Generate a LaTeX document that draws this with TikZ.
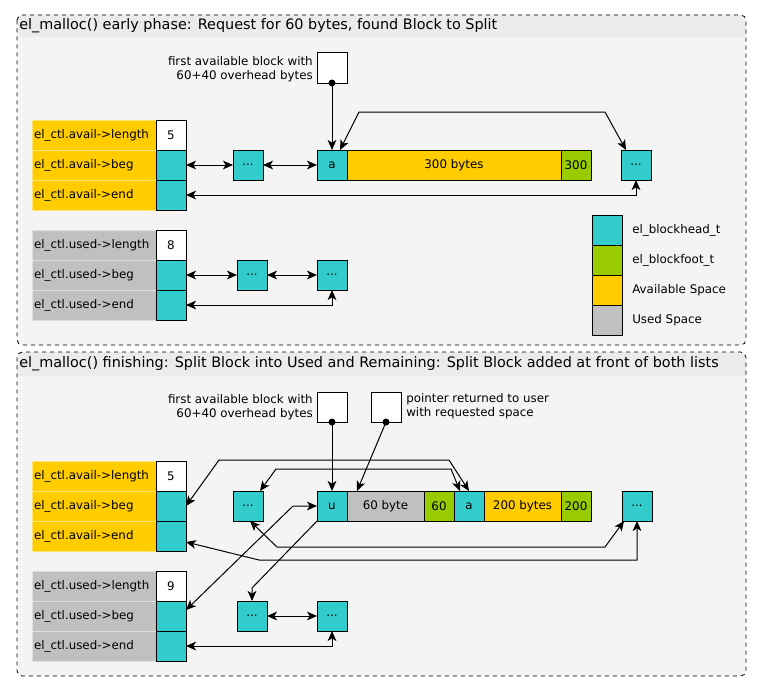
\documentclass[tikz,border=0pt]{standalone}
\usepackage{fontspec}
\setmainfont{DejaVu Sans}
\usetikzlibrary{arrows.meta,calc}
\definecolor{cyanc}{HTML}{33CCCC}
\definecolor{yelc}{HTML}{FFCC00}
\definecolor{grnc}{HTML}{99CC00}
\definecolor{grayc}{HTML}{C0C0C0}
\definecolor{panelbg}{HTML}{F4F4F4}
\definecolor{titlebg}{HTML}{EBEBEB}
\tikzset{
  fnt/.style={font=\fontsize{8.9}{10.2}\selectfont},
  cell/.style={draw=black, line width=0.75pt, minimum width=22.5pt, minimum height=22.5pt, inner sep=0pt, outer sep=0pt, fnt},
  headc/.style={cell, fill=cyanc},
  valc/.style={cell, fill=white},
  footc/.style={cell, fill=grnc},
  availc/.style={cell, fill=yelc},
  usedc/.style={cell, fill=grayc},
  lab/.style={inner xsep=1.5pt, inner ysep=0pt, text width=90pt, align=left, minimum height=22.5pt, outer sep=0pt, fnt, anchor=west},
  avlab/.style={lab, fill=yelc, draw=yelc!55!white, line width=0.4pt},
  uslab/.style={lab, fill=grayc, draw=grayc!50!white, line width=0.4pt},
  bi/.style={line width=0.75pt, {Stealth[length=7.5pt,width=6.5pt,inset=2pt]}-{Stealth[length=7.5pt,width=6.5pt,inset=2pt]}},
  uni/.style={line width=0.75pt, -{Stealth[length=7.5pt,width=6.5pt,inset=2pt]}},
  panel/.style={draw=black, dashed, line width=0.6pt, rounded corners=4pt},
  ttl/.style={anchor=west, inner sep=0pt, font=\fontsize{10.8}{12}\selectfont},
  note/.style={inner sep=0pt, fnt},
  legtxt/.style={anchor=west, inner sep=0pt, fnt}
}
\begin{document}
\begin{tikzpicture}[x=0.75pt,y=-0.75pt]
\useasboundingbox[fill=white] (0,0) rectangle (762,692);

% ---------------- top panel ----------------
\fill[panelbg, rounded corners=4pt] (17,15) rectangle (746,345);
\fill[titlebg, rounded corners=4pt] (17,15) rectangle (746,37);
\fill[titlebg] (17,30) rectangle (746,37);
\draw[panel] (17,15) rectangle (746,345);
\node[ttl] (t1) at (19,26) {el\_malloc() early phase: Request for 60 bytes, found Block to Split};

\node[avlab] (avlenl) at (32,135) {el\_ctl.avail->length};
\node[avlab] (avbegl) at (32,165) {el\_ctl.avail->beg};
\node[avlab] (avendl) at (32,195) {el\_ctl.avail->end};
\node[valc]  (avlen) at (171,135) {5};
\node[headc] (avbeg) at (171,165) {};
\node[headc] (avend) at (171,195) {};

\node[uslab] (uslenl) at (32,245) {el\_ctl.used->length};
\node[uslab] (usbegl) at (32,275) {el\_ctl.used->beg};
\node[uslab] (usendl) at (32,305) {el\_ctl.used->end};
\node[valc]  (uslen) at (171,245) {8};
\node[headc] (usbeg) at (171,275) {};
\node[headc] (usend) at (171,305) {};

\node[valc] (ptr1) at (332,68) {};
\node[note, anchor=east, align=right] (ptr1t) at (313,69) {first available block with\\60+40 overhead bytes};

\node[headc] (avd1) at (248,165) {...};
\node[headc] (a) at (332,165) {a};
\node[availc, minimum width=160.5pt] (b300) at (454,165) {300 bytes};
\node[footc] (f300) at (576,165) {300};
\node[headc] (avd2) at (636,165) {...};

\node[headc] (usd1) at (252,275) {...};
\node[headc] (usd2) at (332,275) {...};

\draw[bi] (avbeg.east) -- (avd1.west);
\draw[bi] (avd1.east) -- (a.west);
\draw[bi] ($(a.north)+(8,0)$) -- (359,112) -- (605,112) -- ($(avd2.north)+(-10,0)$);
\draw[bi] (avend.east) -| (avd2.south);
\fill (ptr1.south) circle (3.5);
\draw[uni] (ptr1.south) -- (a.north);

\draw[bi] (usbeg.east) -- (usd1.west);
\draw[bi] (usd1.east) -- (usd2.west);
\draw[bi] (usend.east) -| (usd2.south);

% legend
\node[headc] (lg1) at (607,230) {};
\node[footc] (lg2) at (607,260) {};
\node[availc] (lg3) at (607,290) {};
\node[usedc] (lg4) at (607,320) {};
\node[legtxt] (lg1t) at (632,230) {el\_blockhead\_t};
\node[legtxt] (lg2t) at (632,260) {el\_blockfoot\_t};
\node[legtxt] (lg3t) at (632,290) {Available Space};
\node[legtxt] (lg4t) at (632,320) {Used Space};

% ---------------- bottom panel ----------------
\fill[panelbg, rounded corners=4pt] (17,352) rectangle (746,676);
\fill[titlebg, rounded corners=4pt] (17,352) rectangle (746,376);
\fill[titlebg] (17,366) rectangle (746,376);
\draw[panel] (17,352) rectangle (746,676);
\node[ttl] (t2) at (19,364) {el\_malloc() finishing: Split Block into Used and Remaining: Split Block added at front of both lists};

\node[avlab] (bavlenl) at (32,476) {el\_ctl.avail->length};
\node[avlab] (bavbegl) at (32,506) {el\_ctl.avail->beg};
\node[avlab] (bavendl) at (32,536) {el\_ctl.avail->end};
\node[valc]  (bavlen) at (171,476) {5};
\node[headc] (bavbeg) at (171,506) {};
\node[headc] (bavend) at (171,536) {};

\node[uslab] (buslenl) at (32,586) {el\_ctl.used->length};
\node[uslab] (busbegl) at (32,616) {el\_ctl.used->beg};
\node[uslab] (busendl) at (32,646) {el\_ctl.used->end};
\node[valc]  (buslen) at (171,586) {9};
\node[headc] (busbeg) at (171,616) {};
\node[headc] (busend) at (171,646) {};

\node[valc] (ptr1b) at (332,407) {};
\node[note, anchor=east, align=right] (ptr1bt) at (313,407) {first available block with\\60+40 overhead bytes};
\node[valc] (ptr2) at (386,407) {};
\node[note, anchor=west, align=left] (ptr2t) at (406,406) {pointer returned to user\\with requested space};

\node[headc] (bd1) at (248,506) {...};
\node[headc] (u) at (332,506) {u};
\node[usedc, minimum width=57.75pt] (b60) at (385.5,506) {60 byte};
\node[footc] (f60) at (439,506) {60};
\node[headc] (a2) at (469,506) {a};
\node[availc, minimum width=57.75pt] (b200) at (522.5,506) {200 bytes};
\node[footc] (f200) at (576,506) {200};
\node[headc] (bd2) at (637,506) {...};

\node[headc] (bud1) at (252,616) {...};
\node[headc] (bud2) at (332,616) {...};

\fill (ptr1b.south) circle (3.5);
\draw[uni] (ptr1b.south) -- (u.north);
\fill (ptr2.south) circle (3.5);
\draw[uni] (ptr2.south) -- ($(b60.north west)+(10,0)$);

\draw[bi] (bavbeg.east) -- (219,460) -- (449,460) -- (a2.north);
\draw[bi] ($(bd1.north)+(12,0)$) -- (276,469) -- (451,469) -- ($(a2.north)+(-9,0)$);
\draw[bi] ($(bd1.south)+(2,0)$) -- (277,547) -- (605,547) -- ($(bd2.south west)+(2,0)$);
\draw[bi] ($(bavend.east)+(0,6)$) -- (259,560) -- (637,560) -- (bd2.south);
\draw[bi] ($(busbeg.east)+(0,-6)$) -- (293,506) -- (u.west);
\draw[uni] (u.south west) -- (252,588) -- (bud1.north);
\draw[bi] (bud1.east) -- (bud2.west);
\draw[bi] (busend.east) -| (bud2.south);
\end{tikzpicture}
\end{document}
